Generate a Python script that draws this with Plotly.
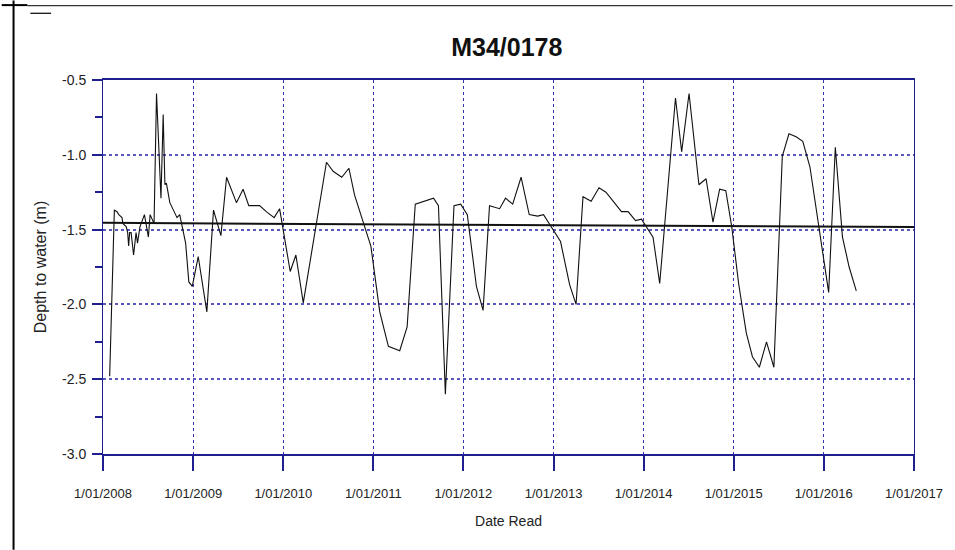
import plotly.graph_objects as go

# bore M34/0178 - depth to water readings
read_dates = [
    "2008-01-28", "2008-02-16", "2008-02-27", "2008-03-05", "2008-03-18", "2008-03-22",
    "2008-04-04", "2008-04-10", "2008-04-14", "2008-04-18", "2008-04-24", "2008-05-04",
    "2008-05-14", "2008-05-20", "2008-05-30", "2008-06-17", "2008-07-03", "2008-07-10",
    "2008-07-26", "2008-08-05", "2008-08-23", "2008-09-01", "2008-09-08", "2008-09-14",
    "2008-09-28", "2008-10-27", "2008-11-07", "2008-12-01", "2008-12-14", "2008-12-28",
    "2009-01-21", "2009-02-25", "2009-03-24", "2009-04-23", "2009-05-16", "2009-06-25",
    "2009-07-22", "2009-08-14", "2009-09-27", "2009-10-24", "2009-11-25", "2009-12-17",
    "2010-01-29", "2010-02-21", "2010-03-23", "2010-06-25", "2010-07-22", "2010-08-26",
    "2010-09-24", "2010-10-17", "2010-12-22", "2011-01-27", "2011-03-03", "2011-04-18",
    "2011-05-18", "2011-06-20", "2011-09-02", "2011-09-22", "2011-10-20", "2011-11-24",
    "2011-12-21", "2012-01-17", "2012-02-23", "2012-03-21", "2012-04-16", "2012-05-27",
    "2012-06-20", "2012-07-19", "2012-08-22", "2012-09-24", "2012-10-28", "2012-11-21",
    "2013-01-29", "2013-03-07", "2013-04-02", "2013-04-30", "2013-06-02", "2013-07-04",
    "2013-08-01", "2013-10-03", "2013-10-30", "2013-11-29", "2013-12-23", "2014-02-08",
    "2014-03-07", "2014-05-10", "2014-06-04", "2014-07-04", "2014-08-13", "2014-09-11",
    "2014-10-09", "2014-11-05", "2014-11-30", "2014-12-24", "2015-01-21", "2015-02-21",
    "2015-03-18", "2015-04-15", "2015-05-14", "2015-06-13", "2015-07-17", "2015-08-13",
    "2015-09-11", "2015-10-08", "2015-11-06", "2016-01-21", "2016-02-17", "2016-03-17",
    "2016-04-13", "2016-05-12",
]
depth_m = [
    -2.48, -1.37, -1.38, -1.40, -1.42, -1.46,
    -1.48, -1.52, -1.61, -1.52, -1.52, -1.67,
    -1.52, -1.59, -1.48, -1.40, -1.55, -1.40,
    -1.46, -0.59, -1.29, -0.73, -1.20, -1.19,
    -1.32, -1.42, -1.40, -1.59, -1.85, -1.88,
    -1.68, -2.05, -1.37, -1.54, -1.15, -1.32,
    -1.23, -1.34, -1.34, -1.38, -1.42, -1.36,
    -1.78, -1.67, -1.99, -1.05, -1.11, -1.15,
    -1.09, -1.27, -1.61, -2.05, -2.28, -2.31,
    -2.15, -1.33, -1.29, -1.34, -2.60, -1.34,
    -1.33, -1.40, -1.88, -2.04, -1.34, -1.36,
    -1.29, -1.33, -1.15, -1.40, -1.41, -1.40,
    -1.58, -1.87, -2.00, -1.28, -1.31, -1.22,
    -1.25, -1.38, -1.38, -1.44, -1.43, -1.55,
    -1.86, -0.62, -0.98, -0.59, -1.20, -1.16,
    -1.45, -1.23, -1.24, -1.48, -1.86, -2.19,
    -2.35, -2.42, -2.25, -2.42, -1.01, -0.86,
    -0.88, -0.91, -1.08, -1.92, -0.95, -1.55,
    -1.75, -1.91,
]

# linear trend across the axis
trend_dates = ["2008-01-01", "2017-01-01"]
trend_depth = [-1.455, -1.483]

year_ticks = ["2008-01-01", "2009-01-01", "2010-01-01", "2011-01-01", "2012-01-01",
              "2013-01-01", "2014-01-01", "2015-01-01", "2016-01-01", "2017-01-01"]
depth_ticks = [-3.0, -2.5, -2.0, -1.5, -1.0, -0.5]
depth_labels = ["-3.0", "-2.5", "-2.0", "-1.5", "-1.0", "-0.5"]

NAVY = "#1f1f8f"
FONT = "Liberation Sans, Arial, sans-serif"

fig = go.Figure()
fig.add_trace(go.Scatter(x=read_dates, y=depth_m, mode="lines",
                         line=dict(color="#111111", width=1.1), showlegend=False))
fig.add_trace(go.Scatter(x=trend_dates, y=trend_depth, mode="lines",
                         line=dict(color="#111111", width=2), showlegend=False))

# page frame bits left over from the report
W, L, R = 955, 102.5, 923
T, B = 79.5, 454
def px(v):
    return (v - L) / (R - L)
def py(v):
    return (B - v) / (B - T)
fig.add_shape(type="line", xref="paper", yref="paper", x0=px(12), x1=px(12), y0=py(0), y1=py(550),
              line=dict(color="black", width=2))
fig.add_shape(type="line", xref="paper", yref="paper", x0=px(0), x1=px(26), y0=py(4.5), y1=py(4.5),
              line=dict(color="black", width=2))
fig.add_shape(type="line", xref="paper", yref="paper", x0=px(26), x1=px(962), y0=py(5), y1=py(5),
              line=dict(color="#333333", width=1.2))
fig.add_shape(type="line", xref="paper", yref="paper", x0=px(29), x1=px(50), y0=py(12.7), y1=py(12.7),
              line=dict(color="black", width=1.2))

fig.update_layout(
    width=955, height=550,
    margin=dict(l=L, r=W - R, t=T, b=550 - B),
    paper_bgcolor="white", plot_bgcolor="white",
    title=dict(text="<b>M34/0178</b>", x=px(511), xref="paper", xanchor="center",
               y=1 - 47 / 550, yanchor="middle",
               font=dict(family=FONT, size=25, color="#111111")),
    font=dict(family=FONT, color="#222222"),
)
fig.update_xaxes(
    range=["2008-01-01", "2017-01-01"], tickvals=year_ticks, tickformat="%-d/%m/%Y",
    showline=True, linecolor=NAVY, linewidth=2, mirror=True,
    ticks="outside", ticklen=15, tickwidth=1.5, tickcolor=NAVY, ticklabelstandoff=11,
    ticklabeloverflow="allow",
    showgrid=True, gridcolor="#3333b0", gridwidth=1, griddash="dot",
    tickfont=dict(family=FONT, size=13, color="#222222"),
    title=dict(text="Date Read", standoff=17,
               font=dict(family=FONT, size=14, color="#222222")),
    zeroline=False,
)
fig.update_yaxes(
    range=[-3.0, -0.5], tickvals=depth_ticks, ticktext=depth_labels,
    showline=True, linecolor=NAVY, linewidth=1, mirror=True,
    ticks="outside", ticklen=10, tickwidth=2, tickcolor=NAVY, ticklabelstandoff=3,
    minor=dict(dtick=0.25, tick0=-3.0, ticks="outside", ticklen=7, tickwidth=2,
               tickcolor=NAVY, showgrid=False),
    showgrid=True, gridcolor="#5757bd", gridwidth=2, griddash="dot",
    tickfont=dict(family=FONT, size=14, color="#222222"),
    title=dict(text="Depth to water (m)", standoff=11,
               font=dict(family=FONT, size=16, color="#222222")),
    zeroline=False,
)

# drop the default body margin so the figure sits at the page corner
fig.write_html("out.html", config={"displayModeBar": False},
               post_script="document.body.style.margin='0';")
